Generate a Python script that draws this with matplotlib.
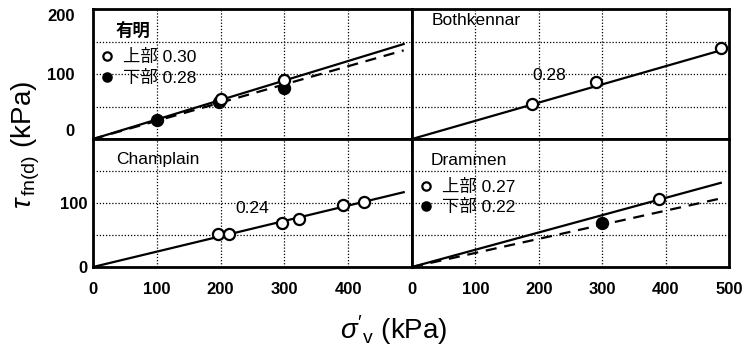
import numpy as np
import matplotlib
matplotlib.use('Agg')
import matplotlib.pyplot as plt
from matplotlib.font_manager import FontProperties

plt.rcParams['font.family'] = ['Liberation Sans', 'DejaVu Sans']
plt.rcParams['mathtext.fontset'] = 'custom'
plt.rcParams['mathtext.rm'] = 'Liberation Sans'
plt.rcParams['mathtext.it'] = 'Liberation Sans:italic'

# --- data (sigma'v, tau) ---
ariake_upper_x = [200, 300]
ariake_upper_y = [61, 91]
ariake_lower_x = [100, 197, 300]
ariake_lower_y = [29, 57, 78]
ariake_k = [0.30, 0.28]

both_x = [189, 290, 487]
both_y = [54, 87, 140]
both_k = 0.28

champ_x = [196, 213, 296, 323, 392, 425]
champ_y = [52, 51, 68, 75, 97, 102]
champ_k = 0.24

dram_upper_x = [390]
dram_upper_y = [107]
dram_lower_x = [300]
dram_lower_y = [68]
dram_k = [0.27, 0.22]

line_xmax = 487
xticks = [0, 100, 200, 300, 400, 500]
yticks = [0, 50, 100, 150, 200]

jp = FontProperties(family=['Liberation Sans', 'Noto Sans CJK JP'], size=12.5)
jp_bold = FontProperties(family=['Noto Sans CJK JP', 'Liberation Sans'], size=12.5, weight='bold')

W, H = 752., 350.
L, M, R = 93 / W, 412 / W, 729 / W
T, MID, B = 1 - 9 / H, 1 - 139 / H, 1 - 267 / H

fig = plt.figure(figsize=(7.52, 3.5), dpi=100)
ax_a = fig.add_axes([L, MID, M - L, T - MID])
ax_b = fig.add_axes([M, MID, R - M, T - MID])
ax_c = fig.add_axes([L, B, M - L, MID - B])
ax_d = fig.add_axes([M, B, R - M, MID - B])

mk = dict(marker='o', ms=8, mew=1.6, mec='k', ls='none', zorder=5, clip_on=False)
xl = np.array([0, line_xmax])
leg_kw = dict(prop=jp, loc='upper left', bbox_to_anchor=(0.025, 0.69), frameon=False,
              markerscale=0.75, handlelength=0.7, handletextpad=0.55,
              labelspacing=0.25, borderpad=0, borderaxespad=0)

for ax in [ax_a, ax_b, ax_c, ax_d]:
    ax.set_xlim(0, 500)
    ax.set_ylim(0, 200)
    ax.set_xticks(xticks)
    ax.set_yticks(yticks)
    ax.grid(True, ls=(0, (1, 1.5)), color='k', lw=0.9)
    ax.tick_params(length=0, labelsize=12)
    ax.tick_params(axis='x', pad=11)
    ax.tick_params(axis='y', pad=4)
    for s in ax.spines.values():
        s.set_linewidth(2)
    for lab in ax.get_xticklabels() + ax.get_yticklabels():
        lab.set_fontweight('bold')

# Ariake
ax_a.plot(xl, ariake_k[0] * xl, 'k-', lw=1.6)
ax_a.plot(xl, ariake_k[1] * xl, 'k', ls=(0, (5, 3.5)), lw=1.6)
h_lo, = ax_a.plot(ariake_lower_x, ariake_lower_y, mfc='k', **mk)
h_up, = ax_a.plot(ariake_upper_x, ariake_upper_y, mfc='w', **mk)
ax_a.text(36, 166, '有明', fontproperties=jp_bold, va='center')
ax_a.legend([h_up, h_lo], ['上部 0.30', '下部 0.28'], **leg_kw)
ax_a.set_xticklabels([])
ax_a.set_yticklabels(['0', '', '100', '', '200'])
ax_a.tick_params(axis='y', pad=13)
ylabs = ax_a.get_yticklabels()
ylabs[0].set_va('bottom')
ylabs[-1].set_va('top')

# Bothkennar
ax_b.plot(xl, both_k * xl, 'k-', lw=1.6)
ax_b.plot(both_x, both_y, mfc='w', **mk)
ax_b.text(31, 183, 'Bothkennar', fontsize=12.5, va='center')
ax_b.text(190, 97, '%.2f' % both_k, fontsize=12.5, va='center')
ax_b.set_xticklabels([])
ax_b.set_yticklabels([])

# Champlain
ax_c.plot(xl, champ_k * xl, 'k-', lw=1.6)
ax_c.plot(champ_x, champ_y, mfc='w', **mk)
ax_c.text(36, 168, 'Champlain', fontsize=12.5, va='center')
ax_c.text(223, 92, '%.2f' % champ_k, fontsize=12.5, va='center')
ax_c.set_xticklabels(['0', '100', '200', '300', '400', ''])
ax_c.set_yticklabels(['0', '', '100', '', ''])

# Drammen
ax_d.plot(xl, dram_k[0] * xl, 'k-', lw=1.6)
ax_d.plot(xl, dram_k[1] * xl, 'k', ls=(0, (5, 3.5)), lw=1.6)
d_lo, = ax_d.plot(dram_lower_x, dram_lower_y, mfc='k', **mk)
d_up, = ax_d.plot(dram_upper_x, dram_upper_y, mfc='w', **mk)
ax_d.text(30, 166, 'Drammen', fontsize=12.5, va='center')
ax_d.legend([d_up, d_lo], ['上部 0.27', '下部 0.22'], **leg_kw)
ax_d.set_xticklabels(['0', '100', '200', '300', '400', '500'])
ax_d.set_yticklabels([])

fig.text(26 / W, 1 - 145 / H, r'$\tau_{\,\mathrm{fn(d)}}$ (kPa)', rotation=90,
         fontsize=20, ha='center', va='center')
fig.text(394 / W, 1 - 330 / H, r"$\sigma'_{\mathrm{v}}$ (kPa)", fontsize=20,
         ha='center', va='center')

fig.savefig('out.png', dpi=100)
